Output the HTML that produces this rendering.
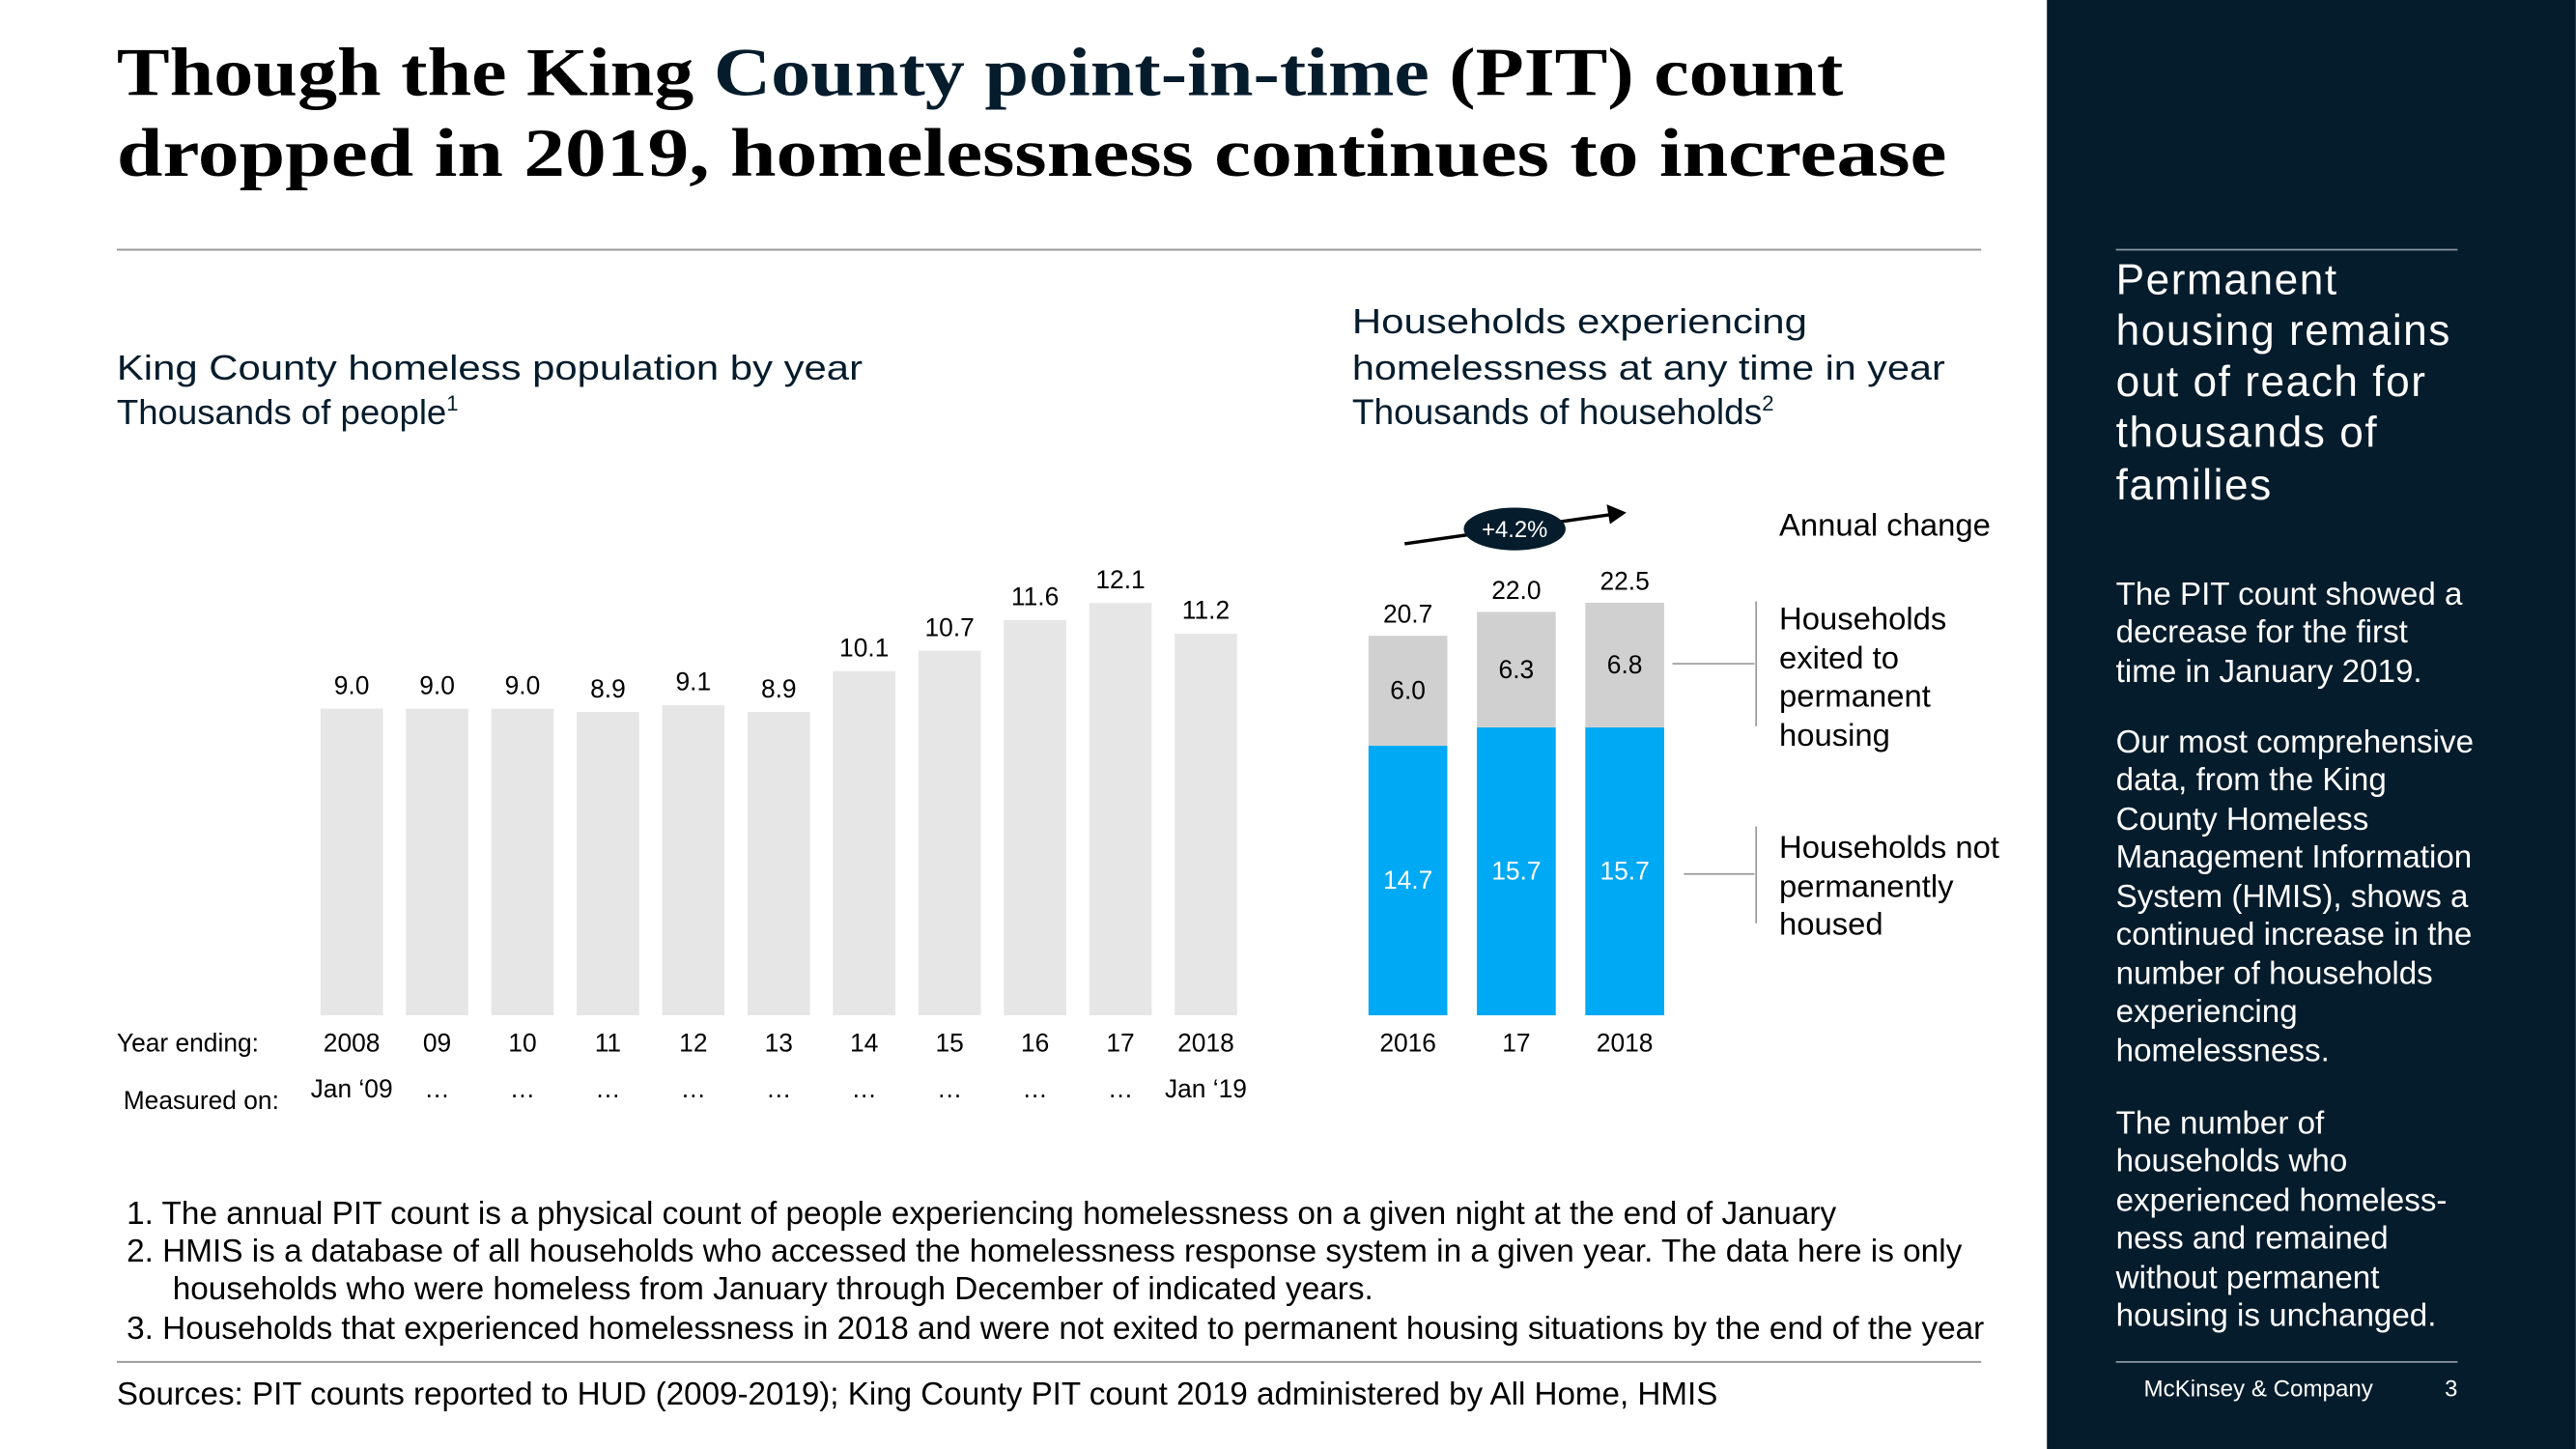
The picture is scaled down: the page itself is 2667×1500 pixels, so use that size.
<!DOCTYPE html>
<html><head><meta charset="utf-8"><style>
html,body{margin:0;padding:0;background:#fff}
svg{display:block}
text{font-family:"Liberation Sans",sans-serif}
.serif{font-family:"Liberation Serif",serif;font-weight:bold}
</style></head><body>
<svg id="chart" width="2667" height="1500" viewBox="0 0 1568 882" xmlns="http://www.w3.org/2000/svg">
<rect x="0" y="0" width="1568" height="882" fill="#fff"/>
<text class="serif" x="71" y="58" font-size="42" fill="#000" textLength="1051" lengthAdjust="spacingAndGlyphs">Though the King <tspan fill="#051c2c">County point-in-time</tspan> (PIT) count</text>
<text class="serif" x="71" y="107" font-size="42" fill="#000" textLength="1114" lengthAdjust="spacingAndGlyphs">dropped in 2019, homelessness continues to increase</text>
<line x1="71" y1="152" x2="1206" y2="152" stroke="#999" stroke-width="1.2"/>

<text x="71" y="231" font-size="21.5" fill="#051c2c" textLength="454" lengthAdjust="spacingAndGlyphs">King County homeless population by year</text>
<text x="71" y="258" font-size="21.5" fill="#051c2c">Thousands of people<tspan font-size="13" dy="-8">1</tspan></text>

<text x="823" y="203" font-size="21.5" fill="#051c2c" textLength="277" lengthAdjust="spacingAndGlyphs">Households experiencing</text>
<text x="823" y="231" font-size="21.5" fill="#051c2c" textLength="361" lengthAdjust="spacingAndGlyphs">homelessness at any time in year</text>
<text x="823" y="258" font-size="21.8" fill="#051c2c">Thousands of households<tspan font-size="13" dy="-8">2</tspan></text>

<g id="left"></g>
<g id="right"></g>

<text x="71" y="640" font-size="15.5" fill="#000">Year ending:</text>
<text x="75" y="675" font-size="15.5" fill="#000">Measured on:</text>

<line x1="855" y1="331" x2="982" y2="313" stroke="#000" stroke-width="2"/>
<polygon points="990,312 978,307 980,319" fill="#000"/>
<ellipse cx="922" cy="322" rx="31" ry="13" fill="#051c2c"/>
<text x="922" y="327" font-size="14" fill="#fff" text-anchor="middle">+4.2%</text>
<text x="1083" y="326" font-size="19.3" fill="#000">Annual change</text>

<line x1="1018" y1="404" x2="1068" y2="404" stroke="#999"/>
<line x1="1069" y1="366" x2="1069" y2="442" stroke="#999"/>
<text font-size="19.3" fill="#000"><tspan x="1083" y="383">Households</tspan><tspan x="1083" y="407">exited to</tspan><tspan x="1083" y="430">permanent</tspan><tspan x="1083" y="454">housing</tspan></text>
<line x1="1025" y1="532" x2="1068" y2="532" stroke="#999"/>
<line x1="1069" y1="503" x2="1069" y2="562" stroke="#999"/>
<text font-size="19.3" fill="#000"><tspan x="1083" y="522">Households not</tspan><tspan x="1083" y="546">permanently</tspan><tspan x="1083" y="569">housed</tspan></text>

<text font-size="19.6" fill="#000">
<tspan x="77" y="745">1.  The annual PIT count is a physical count of people experiencing homelessness on a given night at the end of January</tspan>
<tspan x="77" y="768">2.  HMIS is a database of all households who accessed the homelessness response system in a given year. The data here is only</tspan>
<tspan x="105" y="791">households who were homeless from January through December of indicated years.</tspan>
<tspan x="77" y="815">3. Households that experienced homelessness in 2018 and were not exited to permanent housing situations by the end of the year</tspan>
</text>
<line x1="71" y1="829" x2="1206" y2="829" stroke="#999" stroke-width="1.2"/>
<text x="71" y="855" font-size="19.5" fill="#000">Sources: PIT counts reported to HUD (2009-2019); King County PIT count 2019 administered by All Home, HMIS</text>

<rect x="1246" y="0" width="322" height="882" fill="#051c2c"/>
<line x1="1288" y1="152" x2="1496" y2="152" stroke="#8a96a0"/>
<text font-size="26" fill="#fff" letter-spacing="0.9"><tspan x="1288" y="179">Permanent</tspan><tspan x="1288" y="210">housing remains</tspan><tspan x="1288" y="241">out of reach for</tspan><tspan x="1288" y="272">thousands of</tspan><tspan x="1288" y="304">families</tspan></text>
<text font-size="19.5" fill="#fff">
<tspan x="1288" y="368">The PIT count showed a</tspan><tspan x="1288" y="391">decrease for the first</tspan><tspan x="1288" y="415">time in January 2019.</tspan>
<tspan x="1288" y="458">Our most comprehensive</tspan><tspan x="1288" y="481">data, from the King</tspan><tspan x="1288" y="505">County Homeless</tspan><tspan x="1288" y="528">Management Information</tspan><tspan x="1288" y="552">System (HMIS), shows a</tspan><tspan x="1288" y="575">continued increase in the</tspan><tspan x="1288" y="599">number of households</tspan><tspan x="1288" y="622">experiencing</tspan><tspan x="1288" y="646">homelessness.</tspan>
<tspan x="1288" y="690">The number of</tspan><tspan x="1288" y="713">households who</tspan><tspan x="1288" y="737">experienced homeless-</tspan><tspan x="1288" y="760">ness and remained</tspan><tspan x="1288" y="784">without permanent</tspan><tspan x="1288" y="807">housing is unchanged.</tspan>
</text>
<line x1="1288" y1="829" x2="1496" y2="829" stroke="#8a96a0"/>
<text x="1305" y="850" font-size="14.2" fill="#fff">McKinsey &amp; Company</text>
<text x="1496" y="850" font-size="14" fill="#fff" text-anchor="end">3</text>
</svg>
<script>
const leftCategories = ["2008","09","10","11","12","13","14","15","16","17","2018"];
const leftValues = [9.0,9.0,9.0,8.9,9.1,8.9,10.1,10.7,11.6,12.1,11.2];
const measuredOn = ["Jan \u201809","\u2026","\u2026","\u2026","\u2026","\u2026","\u2026","\u2026","\u2026","\u2026","Jan \u201819"];
const rightCategories = ["2016","17","2018"];
const notHousedValues = [14.7,15.7,15.7];
const exitedValues = [6.0,6.3,6.8];
const totalValues = [20.7,22.0,22.5];

const NS="http://www.w3.org/2000/svg";
function mk(parent,tag,attrs,txt){const e=document.createElementNS(NS,tag);for(const k in attrs)e.setAttribute(k,attrs[k]);if(txt!==undefined)e.textContent=txt;parent.appendChild(e);return e;}
const base=618;
const lx=i=>214+i*52;
const ly=v=>v*20.74;
const rx=i=>857+i*66;
const ry=v=>v*11.16;
const L=document.getElementById('left'), R=document.getElementById('right');
leftValues.forEach((v,i)=>{
  const b=mk(L,'rect',{x:lx(i)-19,y:base-ly(v),width:38,height:ly(v),fill:'#e6e6e6'});
  
  
  const t=mk(L,'text',{x:lx(i),y:base-ly(v)-9,'font-size':15.5,'text-anchor':'middle',fill:'#000'},v.toFixed(1));
  
  
  const c=mk(L,'text',{x:lx(i),y:640,'font-size':15.5,'text-anchor':'middle',fill:'#000'},leftCategories[i]);
  
  
  const m=mk(L,'text',{x:lx(i),y:668,'font-size':15.5,'text-anchor':'middle',fill:'#000'},measuredOn[i]);
  
  
});
rightCategories.forEach((c,i)=>{
  const h1=ry(notHousedValues[i]), h2=ry(exitedValues[i]);
  const a=mk(R,'rect',{x:rx(i)-24,y:base-h1,width:48,height:h1,fill:'#00a9f4'});
  
  
  const b=mk(R,'rect',{x:rx(i)-24,y:base-h1-h2,width:48,height:h2,fill:'#d0d0d0'});
  
  
  const t1=mk(R,'text',{x:rx(i),y:base-h1/2+5,'font-size':15.5,'text-anchor':'middle',fill:'#fff'},notHousedValues[i].toFixed(1));
  
  
  const t2=mk(R,'text',{x:rx(i),y:base-h1-h2/2+5,'font-size':15.5,'text-anchor':'middle',fill:'#000'},exitedValues[i].toFixed(1));
  
  
  const t3=mk(R,'text',{x:rx(i),y:base-ry(totalValues[i])-8,'font-size':15.5,'text-anchor':'middle',fill:'#000'},totalValues[i].toFixed(1));
  
  
  const x=mk(R,'text',{x:rx(i),y:640,'font-size':15.5,'text-anchor':'middle',fill:'#000'},c);
  
  
});
</script>
</body></html>
